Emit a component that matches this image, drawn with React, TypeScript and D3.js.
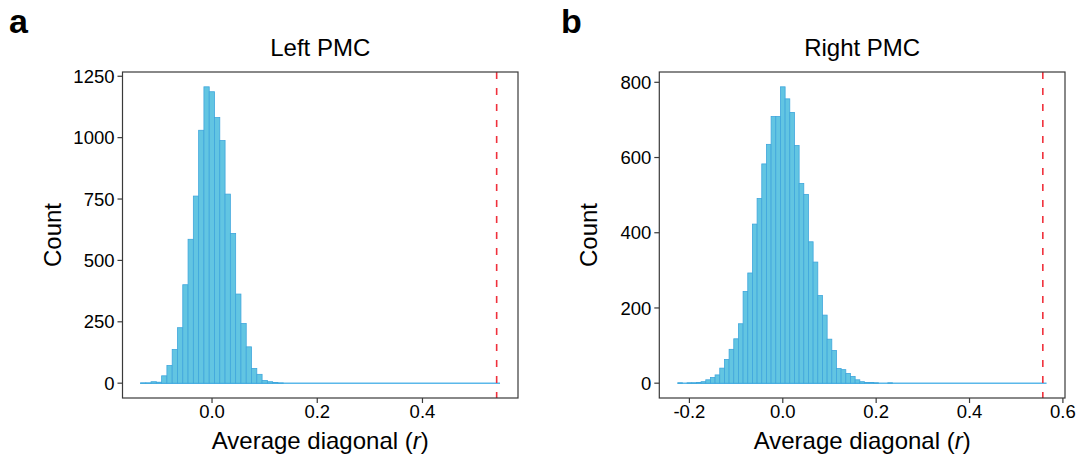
import React from "react";
import * as d3 from "d3";

// ---------- data ----------
const leftTitle = "Left PMC";
const rightTitle = "Right PMC";
const panelLetters = ["a", "b"];

// Left PMC histogram: first bin edge, bin width, counts per bin
const leftBinStart = -0.136;
const leftBinWidth = 0.01005;
const leftCounts = [
  1, 1, 6, 4, 30, 72, 137, 226, 401, 586, 762, 1030, 1207, 1187, 1082, 988, 770,
  610, 363, 243, 148, 60, 36, 11, 6, 3, 1, 0, 0, 0, 0, 0, 0, 0, 0, 0, 0, 0, 0, 0,
  0, 0, 0, 0, 0, 0, 0, 0, 0, 0, 0, 0, 0, 0, 0, 0, 0, 0, 0, 0, 0, 0, 0, 0, 0, 0,
  0, 0,
];
const leftObserved = 0.541;
const leftYTicks = [0, 250, 500, 750, 1000, 1250];
const leftXTicks = [0.0, 0.2, 0.4];

// Right PMC histogram
const rightBinStart = -0.225;
const rightBinWidth = 0.01;
const rightCounts = [
  1, 0, 1, 1, 2, 4, 9, 15, 22, 40, 63, 90, 118, 158, 244, 293, 423, 491, 583, 635,
  709, 709, 788, 756, 720, 632, 531, 502, 376, 322, 233, 181, 117, 87, 39, 36, 26,
  18, 9, 4, 2, 2, 1, 0, 0, 1, 0, 0, 0, 0, 0, 0, 0, 0, 0, 0, 0, 0, 0, 0, 0, 0, 0,
  0, 0, 0, 0, 0, 0, 0, 0, 0, 0, 0, 0, 0, 0, 0, 0,
];
const rightObserved = 0.557;
const rightYTicks = [0, 200, 400, 600, 800];
const rightXTicks = [-0.2, 0.0, 0.2, 0.4, 0.6];

const xLabel = "Average diagonal";
const yLabel = "Count";

// ---------- styles ----------
const FONT = "'Liberation Sans', Arial, Helvetica, sans-serif";
const BAR_FILL = "#62C5E2";
const BAR_STROKE = "#3FA6DC";
const ZERO_LINE = "#5AB8EA";
const VLINE = "#F0303C";
const FRAME = "#3a3a3a";

type PanelProps = {
  x0: number;
  x1: number;
  letter: string;
  letterX: number;
  title: string;
  binStart: number;
  binWidth: number;
  counts: number[];
  observed: number;
  yTicks: number[];
  xTicks: number[];
  yTitleX: number;
};

const Y0 = 72;
const Y1 = 398;

function Panel(p: PanelProps) {
  const n = p.counts.length;
  const lo = p.binStart;
  const hi = p.binStart + n * p.binWidth;
  const span = hi - lo;
  const x = d3
    .scaleLinear()
    .domain([lo - 0.05 * span, hi + 0.05 * span])
    .range([p.x0, p.x1]);
  const maxC = d3.max(p.counts) as number;
  const y = d3
    .scaleLinear()
    .domain([-0.05 * maxC, 1.05 * maxC])
    .range([Y1, Y0]);
  const bins = p.counts.map((c, i) => ({
    a: p.binStart + i * p.binWidth,
    b: p.binStart + (i + 1) * p.binWidth,
    c,
  }));
  const fmtX = (v: number) => d3.format(".1f")(v).replace("−", "-");
  return (
    <g>
      <text
        x={p.letterX}
        y={33}
        fontFamily={FONT}
        fontWeight="bold"
        fontSize={34}
        fill="#000"
      >
        {p.letter}
      </text>
      <text
        x={(p.x0 + p.x1) / 2}
        y={56}
        textAnchor="middle"
        fontFamily={FONT}
        fontSize={24}
        fill="#000"
      >
        {p.title}
      </text>
      <line
        x1={x(lo)}
        x2={x(hi)}
        y1={y(0)}
        y2={y(0)}
        stroke={ZERO_LINE}
        strokeWidth={1.4}
      />
      {bins
        .filter((b) => b.c > 0)
        .map((b, i) => (
          <rect
            key={i}
            x={x(b.a)}
            y={y(b.c)}
            width={x(b.b) - x(b.a)}
            height={Math.max(0.6, y(0) - y(b.c))}
            fill={BAR_FILL}
            stroke={BAR_STROKE}
            strokeWidth={0.8}
          />
        ))}
      <line
        x1={x(p.observed)}
        x2={x(p.observed)}
        y1={Y0}
        y2={Y1}
        stroke={VLINE}
        strokeWidth={1.6}
        strokeDasharray="7 9"
      />
      <rect
        x={p.x0}
        y={Y0}
        width={p.x1 - p.x0}
        height={Y1 - Y0}
        fill="none"
        stroke={FRAME}
        strokeWidth={1.2}
      />
      {p.yTicks.map((t) => (
        <g key={"y" + t}>
          <line
            x1={p.x0 - 5}
            x2={p.x0}
            y1={y(t)}
            y2={y(t)}
            stroke={FRAME}
            strokeWidth={1.2}
          />
          <text
            x={p.x0 - 8}
            y={y(t)}
            dy="0.36em"
            textAnchor="end"
            fontFamily={FONT}
            fontSize={18.5}
            fill="#000"
          >
            {t}
          </text>
        </g>
      ))}
      {p.xTicks.map((t) => (
        <g key={"x" + t}>
          <line
            x1={x(t)}
            x2={x(t)}
            y1={Y1}
            y2={Y1 + 5}
            stroke={FRAME}
            strokeWidth={1.2}
          />
          <text
            x={x(t)}
            y={Y1 + 20}
            textAnchor="middle"
            fontFamily={FONT}
            fontSize={18.5}
            fill="#000"
          >
            {fmtX(t)}
          </text>
        </g>
      ))}
      <text
        x={(p.x0 + p.x1) / 2}
        y={449}
        textAnchor="middle"
        fontFamily={FONT}
        fontSize={24}
        fill="#000"
      >
        {xLabel} (<tspan fontStyle="italic">r</tspan>)
      </text>
      <text
        transform={`translate(${p.yTitleX},${(Y0 + Y1) / 2}) rotate(-90)`}
        textAnchor="middle"
        fontFamily={FONT}
        fontSize={24}
        fill="#000"
      >
        {yLabel}
      </text>
    </g>
  );
}

export default function App() {
  return (
    <svg
      width={1081}
      height={463}
      style={{ position: "absolute", left: 0, top: 0, background: "#fff" }}
    >
      <rect x={0} y={0} width={1081} height={463} fill="#fff" />
      <Panel
        x0={122.5}
        x1={518}
        letter={panelLetters[0]}
        letterX={9}
        title={leftTitle}
        binStart={leftBinStart}
        binWidth={leftBinWidth}
        counts={leftCounts}
        observed={leftObserved}
        yTicks={leftYTicks}
        xTicks={leftXTicks}
        yTitleX={61}
      />
      <Panel
        x0={659.3}
        x1={1065}
        letter={panelLetters[1]}
        letterX={561}
        title={rightTitle}
        binStart={rightBinStart}
        binWidth={rightBinWidth}
        counts={rightCounts}
        observed={rightObserved}
        yTicks={rightYTicks}
        xTicks={rightXTicks}
        yTitleX={597}
      />
    </svg>
  );
}
